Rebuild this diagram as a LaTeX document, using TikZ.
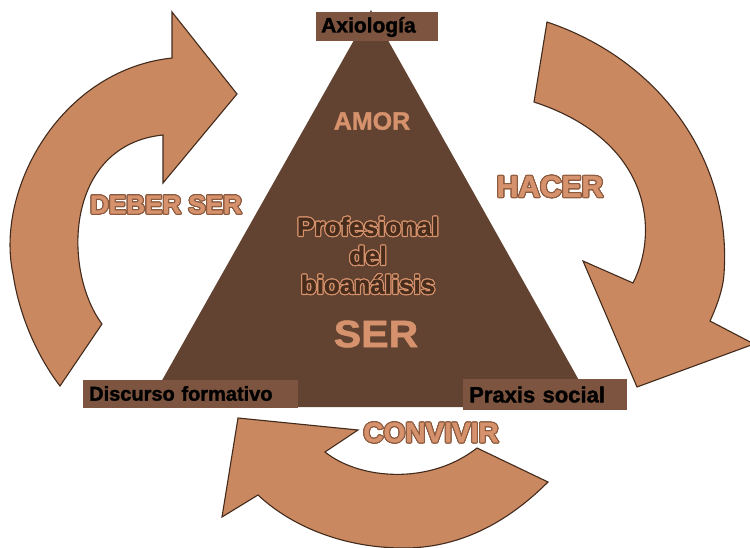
\documentclass[tikz,border=0pt]{standalone}
\usepackage{fontspec}
\setmainfont{Liberation Sans}[BoldFont={Liberation Sans Bold}]
\newfontfamily\heavyfont{Liberation Sans}[BoldFont={Liberation Sans Bold}, BoldFeatures={FakeBold=1.5}]
\usepackage{xcolor}
\usepackage{graphicx}
\usepackage[copies]{contour}
\usepackage{tikz}

\definecolor{tribrown}{RGB}{98,67,50}
\definecolor{boxbrown}{RGB}{124,84,64}
\definecolor{arrowfill}{RGB}{201,136,96}
\definecolor{arrowline}{RGB}{66,42,28}
\definecolor{salmon}{RGB}{214,146,108}
\definecolor{rimbrown}{RGB}{140,90,62}
\definecolor{darktext}{RGB}{72,44,28}

\contourlength{1.1pt}

\tikzset{
  arrowshape/.style={fill=arrowfill, draw=arrowline, line width=1.1pt, line join=miter},
  boxlabel/.style={fill=boxbrown, anchor=west, inner ysep=0pt, minimum height=29pt,
    align=left, font=\heavyfont\bfseries\fontsize{21}{24}\selectfont},
  bigword/.style={text=salmon, font=\heavyfont\bfseries\fontsize{#1}{#1}\selectfont},
}

\begin{document}
\begin{tikzpicture}[x=1pt,y=-1pt]
\useasboundingbox (0,0) rectangle (750,548);

% arrows
\draw[arrowshape] (60,386) -- (102,324) .. controls (62,270) and (65,145) .. (163,135)
  -- (163,183) -- (237,94) -- (172,12) -- (172,58)
  .. controls (60,70) and (-5,190) .. (13,274) .. controls (20,320) and (40,360) .. (60,386) -- cycle;
\draw[arrowshape] (547,22) .. controls (660,60) and (732,160) .. (724,274)
  .. controls (723,290) and (716,308) .. (710,321) -- (754,344) -- (637,387) -- (583,261) -- (633,283)
  .. controls (660,230) and (650,140) .. (534,102) -- cycle;
\draw[arrowshape] (477,448) -- (548,482) .. controls (500,530) and (450,549) .. (400,548)
  .. controls (340,547) and (290,525) .. (258,495) -- (222,517) -- (238,418) -- (358,430) -- (325,452)
  .. controls (360,480) and (430,485) .. (477,448) -- cycle;

% triangle
\fill[tribrown] (147,407) -- (371,10) -- (594,407) -- cycle;

\node[boxlabel, text width=112pt, inner xsep=5pt] (axio) at (316,27) {Axiología};
\node[boxlabel, text width=203pt, inner xsep=6pt, minimum height=28pt,
  font=\heavyfont\bfseries\fontsize{20}{24}\selectfont] (disc) at (83,393.5) {Discurso formativo};
\node[boxlabel, text width=152pt, inner xsep=6pt, minimum height=31pt,
  font=\heavyfont\bfseries\fontsize{22}{24}\selectfont] (prax) at (463,394.5) {Praxis social};

\node[bigword=25] (amor) at (372,121) {AMOR};
\node[bigword=38] (ser) at (376,334) {\scalebox{1.08}[1]{SER}};
\node[text=darktext, align=center, font=\heavyfont\bfseries\fontsize{26}{29}\selectfont] (prof) at (368,256)
  {\contour{salmon}{Profesional}\\\contour{salmon}{del}\\\contour{salmon}{bioanálisis}};

\node[bigword=30] (hacer) at (550,187) {\contour{rimbrown}{HACER}};
\node[bigword=26] (deber) at (166,205) {\contour{rimbrown}{DEBER SER}};
\node[bigword=28] (conv) at (431,433) {\contour{rimbrown}{CONVIVIR}};

\end{tikzpicture}
\end{document}
